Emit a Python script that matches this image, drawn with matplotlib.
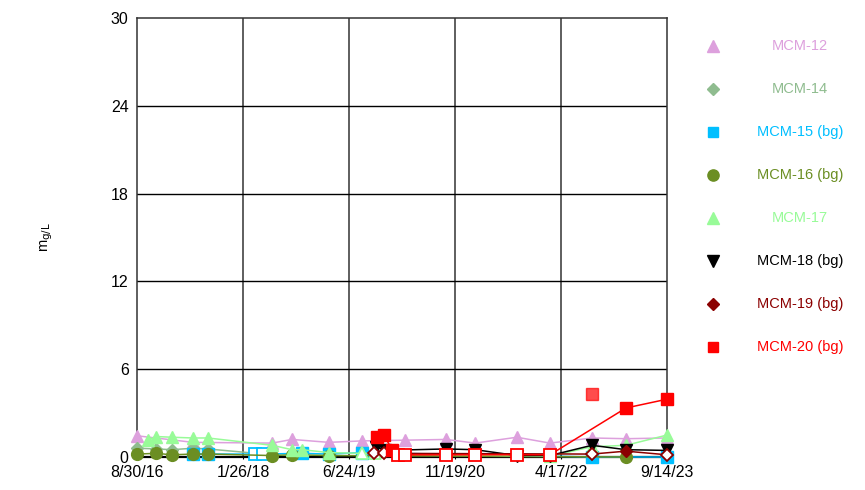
import matplotlib
matplotlib.use("Agg")
import matplotlib.pyplot as plt
import matplotlib.dates as mdates
from matplotlib.lines import Line2D
import numpy as np
import pandas as pd

plt.rcParams['font.family'] = ['Liberation Sans', 'DejaVu Sans']

# ---------------- data ----------------
tick_labels = ["8/30/16", "1/26/18", "6/24/19", "11/19/20", "4/17/22", "9/14/23"]
x_start = "2016-08-30"
x_end = "2023-09-14"

series_names = ["MCM-12", "MCM-14", "MCM-15 (bg)", "MCM-16 (bg)", "MCM-17",
                "MCM-18 (bg)", "MCM-19 (bg)", "MCM-20 (bg)"]

mcm12_dates = ["2016-08-30", "2017-05-29", "2018-06-16", "2018-09-21", "2019-03-19",
               "2019-08-26", "2020-03-22", "2020-10-07", "2021-02-25", "2021-09-16",
               "2022-02-23", "2022-09-15", "2023-02-27", "2023-09-14"]
mcm12_vals = [1.45, 1.0, 0.95, 1.2, 1.0, 1.1, 1.15, 1.2, 0.95, 1.35, 0.95, 1.3, 1.25, 1.3]
mcm12_nd = [0] * len(mcm12_vals)

mcm14_dates = ["2016-08-30", "2016-11-30", "2017-02-16", "2017-05-29", "2017-08-09", "2018-06-16"]
mcm14_vals = [0.6, 0.55, 0.5, 0.6, 0.55, 0.15]
mcm14_nd = [0] * len(mcm14_vals)

mcm15_dates = ["2017-05-29", "2017-08-09", "2018-03-25", "2018-05-03", "2018-11-08",
               "2019-03-19", "2019-08-26", "2022-09-15", "2023-09-14"]
mcm15_vals = [0.2, 0.2, 0.2, 0.2, 0.25, 0.2, 0.3, 0.0, 0.0]
mcm15_nd = [0, 0, 1, 1, 0, 0, 0, 0, 0]

mcm16_dates = ["2016-08-30", "2016-11-30", "2017-02-16", "2017-05-29", "2017-08-09",
               "2018-06-16", "2018-09-21", "2019-03-19", "2023-02-27"]
mcm16_vals = [0.2, 0.25, 0.15, 0.2, 0.2, 0.1, 0.15, 0.1, 0.0]
mcm16_nd = [0] * len(mcm16_vals)

mcm17_dates = ["2016-10-22", "2016-11-30", "2017-02-16", "2017-05-29", "2017-08-09",
               "2018-06-16", "2018-09-21", "2018-11-08", "2019-03-19", "2019-08-26",
               "2019-10-29", "2022-02-23", "2022-09-15", "2023-02-27", "2023-09-14"]
mcm17_vals = [1.15, 1.4, 1.35, 1.3, 1.3, 0.8, 0.5, 0.5, 0.3, 0.25, 0.25, 0.05, 0.7, 0.8, 1.5]
mcm17_nd = [0, 0, 0, 0, 0, 0, 0, 0, 0, 1, 1, 0, 0, 0, 0]

mcm18_dates = ["2019-11-01", "2019-12-16", "2020-10-07", "2021-02-25", "2021-09-16",
               "2022-02-23", "2022-09-15", "2023-02-27", "2023-09-14"]
mcm18_vals = [0.7, 0.45, 0.55, 0.5, 0.1, 0.1, 0.8, 0.5, 0.45]
mcm18_nd = [0] * len(mcm18_vals)

mcm19_dates = ["2019-10-22", "2019-12-10", "2022-09-15", "2023-02-27", "2023-09-14"]
mcm19_vals = [0.25, 0.25, 0.2, 0.4, 0.15]
mcm19_nd = [1, 1, 1, 0, 1]

mcm20_dates = ["2019-11-05", "2019-12-10", "2020-01-20", "2020-02-17", "2020-03-22",
               "2020-10-07", "2021-02-25", "2021-09-16", "2022-02-23", "2023-02-27",
               "2023-09-14"]
mcm20_vals = [1.35, 1.5, 0.5, 0.15, 0.15, 0.15, 0.15, 0.15, 0.15, 3.35, 3.95]
mcm20_nd = [0, 0, 0, 1, 1, 1, 1, 1, 1, 0, 0]
mcm20_extra_date = ["2022-09-15"]
mcm20_extra_val = [4.3]

colors = ["#DDA0DD", "#8FBC8F", "#00BFFF", "#6B8E23", "#98FB98", "#000000", "#8B0000", "#FF0000"]
markers = ["^", "D", "s", "o", "^", "v", "D", "s"]
msizes = [9, 6, 8, 8.5, 9, 8.5, 6, 8]

all_series = [
    (mcm12_dates, mcm12_vals, mcm12_nd),
    (mcm14_dates, mcm14_vals, mcm14_nd),
    (mcm15_dates, mcm15_vals, mcm15_nd),
    (mcm16_dates, mcm16_vals, mcm16_nd),
    (mcm17_dates, mcm17_vals, mcm17_nd),
    (mcm18_dates, mcm18_vals, mcm18_nd),
    (mcm19_dates, mcm19_vals, mcm19_nd),
    (mcm20_dates, mcm20_vals, mcm20_nd),
]

# ---------------- figure ----------------
fig = plt.figure(figsize=(8.65, 4.9), dpi=100)
ax = fig.add_axes([137 / 865, 33 / 490, 530 / 865, 439 / 490])

for i, (d, v, nd) in enumerate(all_series):
    dt = pd.to_datetime(d)
    v = np.array(v, dtype=float)
    nd = np.array(nd, dtype=bool)
    ax.plot(dt, v, color=colors[i], lw=1.1, zorder=3 + i, clip_on=False)
    if (~nd).any():
        ax.plot(dt[~nd], v[~nd], ls="none", marker=markers[i], ms=msizes[i],
                mfc=colors[i], mec=colors[i], zorder=3 + i, clip_on=False)
    if nd.any():
        ax.plot(dt[nd], v[nd], ls="none", marker=markers[i], ms=msizes[i],
                mfc="white", mec=colors[i], mew=1.3, zorder=3 + i, clip_on=False)

ax.plot(pd.to_datetime(mcm20_extra_date), mcm20_extra_val, ls="none", marker="s",
        ms=8, mfc="#FF0000", mec="#FF0000", alpha=0.7, zorder=11, clip_on=False)

t0 = pd.Timestamp(x_start)
t1 = pd.Timestamp(x_end)
ax.set_xlim(t0, t1)
ticks = [t0 + (t1 - t0) * k / 5 for k in range(6)]
ax.set_xticks(ticks)
ax.set_xticklabels(tick_labels, fontsize=11.5)
ax.set_ylim(0, 30)
ax.set_yticks([0, 6, 12, 18, 24, 30])
ax.tick_params(axis="y", labelsize=11.5, length=0, pad=6)
ax.tick_params(axis="x", length=3, direction="inout", pad=4)

for t in ticks[1:-1]:
    ax.axvline(t, color="#333333", lw=1.1, zorder=1)
for yv in [6, 12, 18, 24]:
    ax.axhline(yv, color="black", lw=1.0, zorder=1)
for s in ["top", "right", "left"]:
    ax.spines[s].set_color("#333333")
    ax.spines[s].set_linewidth(1.1)
ax.spines["bottom"].set_color("black")
ax.spines["bottom"].set_linewidth(1.6)
ax.spines["bottom"].set_zorder(2)

ax.set_ylabel(r"m$_{\mathrm{g/L}}$", fontsize=10.5, labelpad=40)

# ---------------- legend (right side) ----------------
for i, name in enumerate(series_names):
    yy = 1 - (46 + 43 * i) / 490
    fig.add_artist(Line2D([713 / 865], [yy], transform=fig.transFigure, ls="none",
                          marker=markers[i], ms=msizes[i] * 0.95, mfc=colors[i], mec=colors[i]))
    fig.text(800 / 865, yy, name, color=colors[i], fontsize=10.5, ha="center", va="center")

fig.savefig("out.png", dpi=100)
